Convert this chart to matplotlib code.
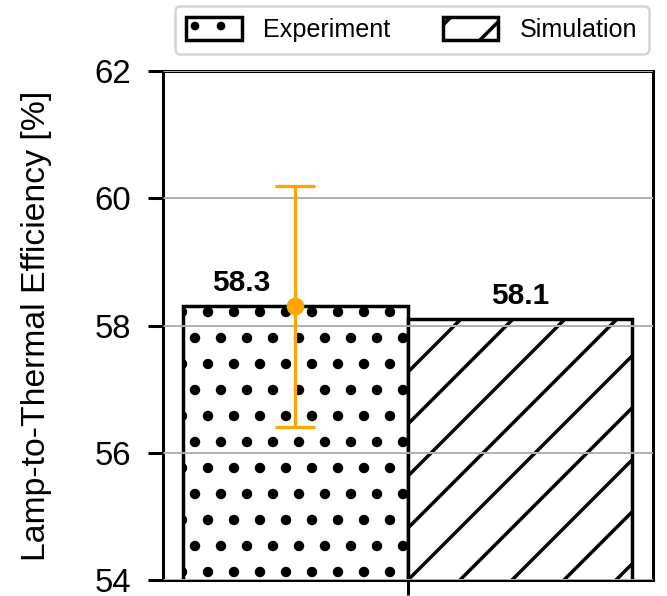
import matplotlib
matplotlib.use('Agg')
from matplotlib import pyplot as plt

# data
labels = ['Experiment', 'Simulation']
values = [58.3, 58.1]
exp_err = 1.9
hatches = ['..', '//']
yticks = [54, 56, 58, 60, 62]

DPI = 312
plt.rcParams['font.family'] = ['Liberation Sans', 'DejaVu Sans']
plt.rcParams['hatch.linewidth'] = 0.8

fig = plt.figure(figsize=(667 / DPI, 596 / DPI), dpi=DPI)
ax = fig.add_axes([163 / 667, 1 - 580 / 596, 490 / 667, 509 / 596])

x = list(range(len(values)))
bars = ax.bar(x, values, width=1.0, color='white', edgecolor='black',
              linewidth=0.8, zorder=1)
for b, h, lab in zip(bars, hatches, labels):
    b.set_hatch(h)
    b.set_label(lab)
# bigger dots
if hasattr(bars[0], 'set_hatch_linewidth'):
    bars[0].set_hatch_linewidth(1.2)

# error bar on the experiment
eb = ax.errorbar(x[0], values[0], yerr=exp_err, fmt='o', color='#FFA500',
                 ms=4.1, elinewidth=0.75, capsize=4.6, capthick=0.75,
                 zorder=4)
eb[0].set_markeredgewidth(0)

# value labels
offsets = [(-12.5, 2.2), (0, 2.2)]
for xi, v, off in zip(x, values, offsets):
    ax.annotate(f'{v:.1f}', xy=(xi, v), xytext=off, textcoords='offset points',
                ha='center', va='bottom', fontsize=6.9, fontweight='bold')

ax.set_ylim(54, 62)
ax.set_xlim(-0.589, 1.593)
ax.set_yticks(yticks)
ax.set_xticks([0.5])
ax.set_xticklabels([''])
ax.tick_params(axis='both', direction='out', length=3.5, width=0.7,
               labelsize=7.6, pad=3.8)
ax.grid(axis='y', color='#b0b0b0', linewidth=0.45)
ax.set_axisbelow(False)
for s in ax.spines.values():
    s.set_linewidth(0.7)

ax.set_ylabel('Lamp-to-Thermal Efficiency [%]', fontsize=7.8)
ax.yaxis.set_label_coords((52 - 163) / 490, 0.5)

leg = ax.legend(handles=list(bars), loc='center', bbox_to_anchor=(0.508, 1.081),
                ncol=2, fontsize=5.8, frameon=True, fancybox=True,
                handlelength=2.2, handleheight=1.0, handletextpad=0.85,
                columnspacing=2.1, borderpad=0.45, edgecolor='#cccccc')
leg.get_frame().set_linewidth(0.6)
for p in leg.get_patches():
    p.set_linewidth(0.8)

fig.savefig('out.png', dpi=DPI)
